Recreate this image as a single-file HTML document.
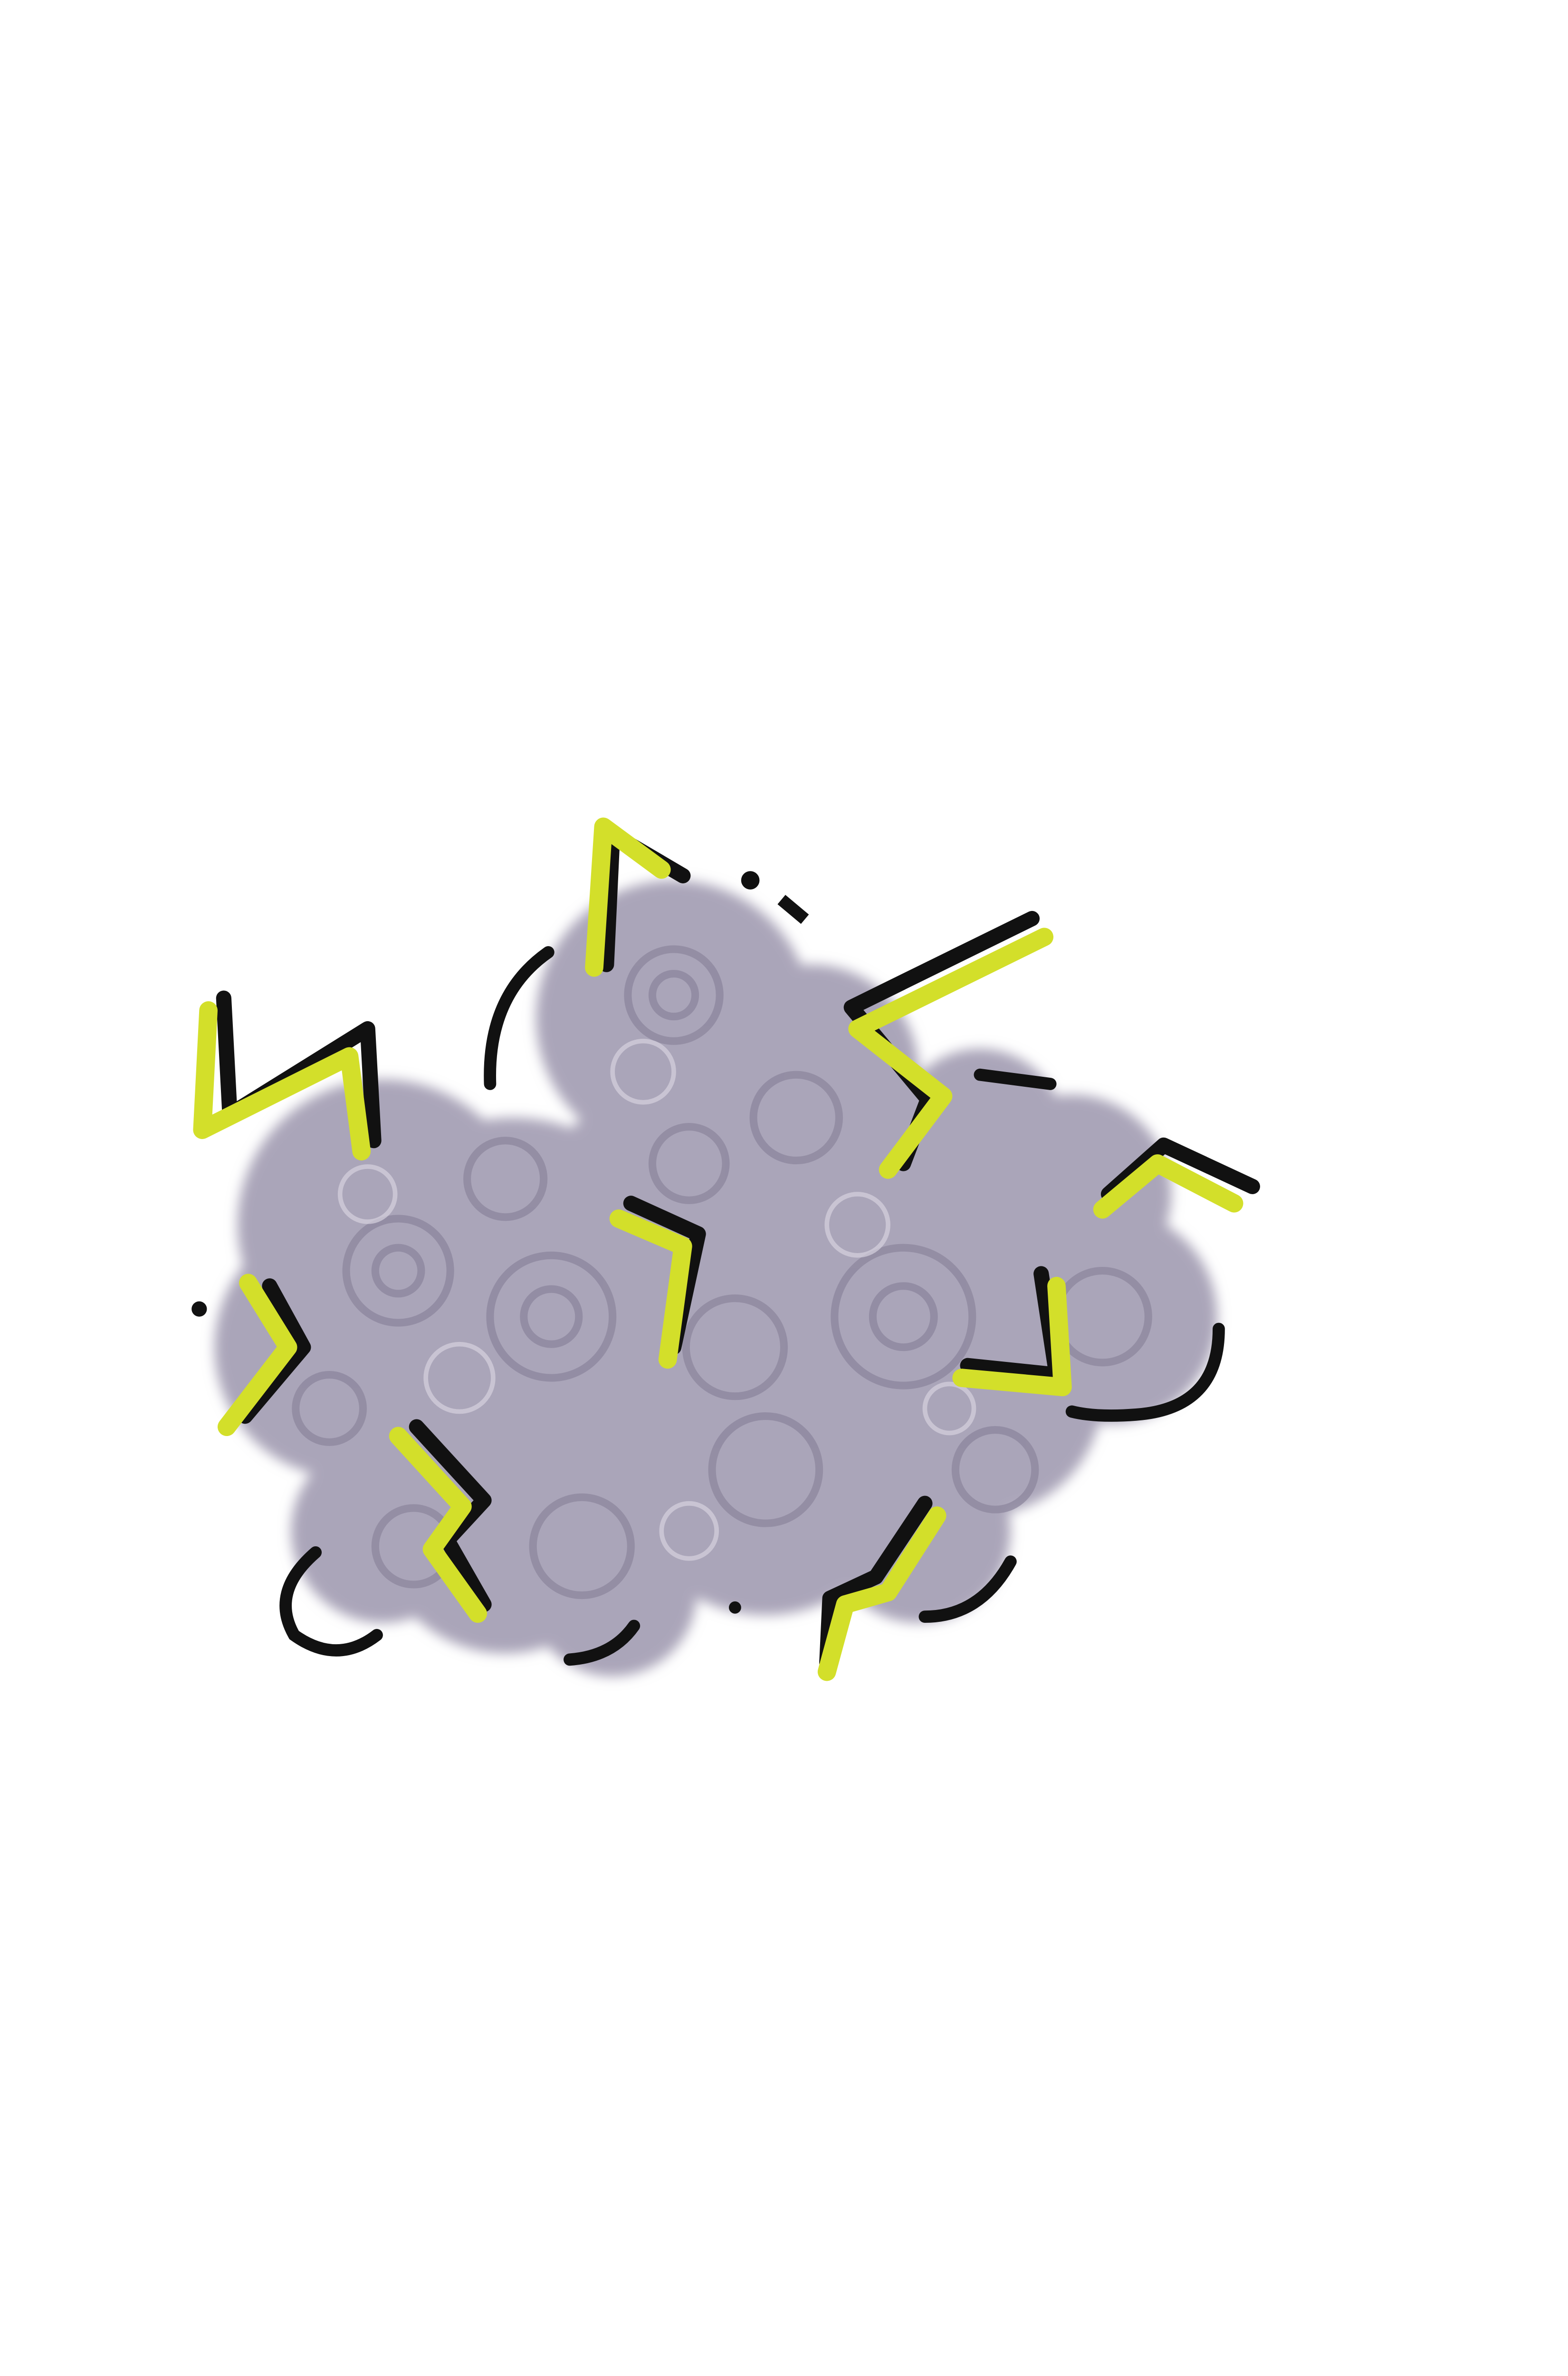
<!DOCTYPE html>
<html><head><meta charset="utf-8"><style>
html,body{margin:0;padding:0;background:#fff;width:3300px;height:5100px;overflow:hidden}
svg{display:block;position:absolute;left:0;top:0}
</style></head><body>
<svg width="3300" height="5100" viewBox="0 0 1024 1583" xmlns="http://www.w3.org/2000/svg">
<defs>
<filter id="blur" x="-10%" y="-10%" width="120%" height="120%"><feGaussianBlur stdDeviation="4"/></filter>
</defs>
<g fill="#aaa5b9" filter="url(#blur)">
<circle cx="440" cy="665" r="90"/><circle cx="250" cy="800" r="95"/><circle cx="225" cy="880" r="85"/>
<circle cx="335" cy="840" r="110"/><circle cx="460" cy="820" r="120"/><circle cx="580" cy="850" r="120"/>
<circle cx="700" cy="780" r="65"/><circle cx="725" cy="860" r="70"/><circle cx="640" cy="910" r="80"/>
<circle cx="330" cy="995" r="85"/><circle cx="500" cy="960" r="95"/><circle cx="600" cy="1000" r="60"/>
<circle cx="250" cy="1000" r="60"/><circle cx="400" cy="1040" r="55"/><circle cx="530" cy="700" r="70"/>
<circle cx="640" cy="740" r="55"/><circle cx="405" cy="945" r="60"/>
</g>
<g fill="none" stroke="#8e889f" stroke-width="5" opacity="0.8">
<circle cx="440" cy="650" r="30"/><circle cx="440" cy="650" r="14"/>
<circle cx="260" cy="830" r="34"/><circle cx="260" cy="830" r="15"/>
<circle cx="360" cy="860" r="40"/><circle cx="360" cy="860" r="18"/>
<circle cx="480" cy="880" r="32"/><circle cx="590" cy="860" r="45"/><circle cx="590" cy="860" r="20"/>
<circle cx="720" cy="860" r="30"/><circle cx="500" cy="960" r="35"/><circle cx="380" cy="1010" r="32"/>
<circle cx="270" cy="1010" r="25"/><circle cx="520" cy="730" r="28"/><circle cx="650" cy="960" r="26"/>
<circle cx="330" cy="770" r="25"/><circle cx="450" cy="760" r="24"/><circle cx="215" cy="920" r="22"/>
</g>
<g fill="none" stroke="#d6d2de" stroke-width="3" opacity="0.7">
<circle cx="420" cy="700" r="20"/><circle cx="300" cy="900" r="22"/><circle cx="560" cy="800" r="20"/>
<circle cx="450" cy="1000" r="18"/><circle cx="620" cy="920" r="16"/><circle cx="240" cy="780" r="18"/>
</g>
<g fill="none" stroke-linecap="round" stroke-linejoin="round">
<g stroke="#111" stroke-width="10">
<polyline points="146,652 150,728 240,672 244,745"/>
<polyline points="396,630 400,545 446,572"/>
<polyline points="674,600 556,658 606,718 590,760"/>
<polyline points="412,786 456,806 440,880"/>
<polyline points="176,840 198,880 160,925"/>
<polyline points="272,932 316,980 292,1006 316,1048"/>
<polyline points="604,982 572,1030 542,1044 540,1086"/>
<polyline points="680,832 690,898 632,892"/>
<polyline points="724,780 760,748 818,775"/>
</g>
<g stroke="#d3df2a" stroke-width="12">
<polyline points="136,660 132,738 228,690 236,752"/>
<polyline points="388,632 394,540 432,568"/>
<polyline points="682,612 560,672 616,716 580,764"/>
<polyline points="404,796 446,814 436,888"/>
<polyline points="162,838 188,880 148,932"/>
<polyline points="260,938 302,984 282,1012 312,1054"/>
<polyline points="612,990 580,1040 552,1048 540,1092"/>
<polyline points="690,840 694,906 628,900"/>
<polyline points="720,790 756,760 806,786"/>
</g>
</g>
<g fill="none" stroke="#111" stroke-width="8" stroke-linecap="round">
<path d="M358,622 Q318,650 320,708"/>
<path d="M206,1014 Q176,1040 192,1068 Q220,1088 246,1068"/>
<path d="M372,1084 Q400,1082 414,1062"/>
<path d="M604,1056 Q640,1056 660,1020"/>
<path d="M796,868 Q796,920 742,924 Q716,926 700,922"/>
<path d="M640,702 L686,708"/>
</g>
<g fill="#111">
<circle cx="130" cy="855" r="5"/><circle cx="490" cy="575" r="6"/>
<rect x="508" y="590" width="20" height="8" transform="rotate(40 518 594)"/>
<circle cx="480" cy="1050" r="4"/>
</g>
</svg>
</body></html>
